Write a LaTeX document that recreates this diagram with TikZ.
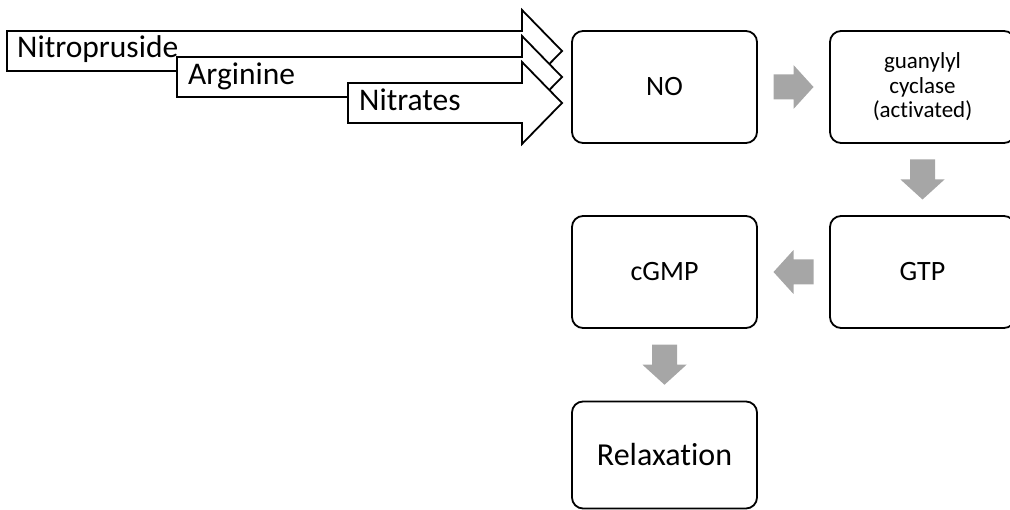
\documentclass[tikz,border=0pt]{standalone}
\usepackage{fontspec}
\setmainfont{Carlito}[Ligatures=NoCommon]
\usetikzlibrary{calc}
\definecolor{arrowgray}{HTML}{A6A6A6}

% grey block arrow centred on #1, turned by #2 degrees
\newcommand\flowarrow[2]{%
  \fill[flow, shift={(#1)}, rotate=#2]
    (-20,-12.5) -- (0,-12.5) -- (0,-22) -- (20,0) -- (0,22) -- (0,12.5) -- (-20,12.5) -- cycle;}

% white outlined feed arrow: left end x, centre line y
\newcommand\feedarrow[2]{%
  \draw[feed] (#1,#2-20) -- (522,#2-20) -- (522,#2-41) -- (562,#2) --
    (522,#2+41) -- (522,#2+20) -- (#1,#2+20) -- cycle;}

\begin{document}
\begin{tikzpicture}[x=1pt,y=-1pt,
  stage/.style={draw=black, line width=1.8pt, rounded corners=11pt,
    minimum width=185pt, minimum height=112pt, align=center, inner sep=0pt,
    font=\fontsize{28}{33}\selectfont},
  feed/.style={draw=black, line width=1.8pt, fill=white, line join=miter},
  flow/.style={fill=arrowgray, draw=none},
  feedlabel/.style={anchor=base west, inner sep=0pt,
    font=\fontsize{31.5}{37}\selectfont}]
\useasboundingbox (0,0) rectangle (1010,510);

% sources feeding NO
\feedarrow{7}{51}
\feedarrow{177}{77}
\feedarrow{348}{103}
\node[feedlabel] (nitro) at (17,58) {Nitropruside};
\node[feedlabel] (argi) at (188,85) {Arginine};
\node[feedlabel] (nitra) at (359,111) {Nitrates};

% signalling chain
\node[stage] (no) at (664.5,87) {NO};
\node[stage, font=\fontsize{23}{24.5}\selectfont] (gc) at (922.5,87)
  {guanylyl\\cyclase\\(activated)};
\node[stage] (gtp) at (922.5,272) {GTP};
\node[stage] (cgmp) at (664.5,272) {cGMP};
\node[stage, minimum height=107pt, font=\fontsize{32}{38}\selectfont]
  (relax) at (664.5,455) {Relaxation};

\flowarrow{$(no.east)!0.5!(gc.west)$}{0}
\flowarrow{$(gc.south)!0.5!(gtp.north)$}{-90}
\flowarrow{$(gtp.west)!0.5!(cgmp.east)$}{180}
\flowarrow{$(cgmp.south)!0.5!(relax.north)$}{-90}
\end{tikzpicture}
\end{document}
